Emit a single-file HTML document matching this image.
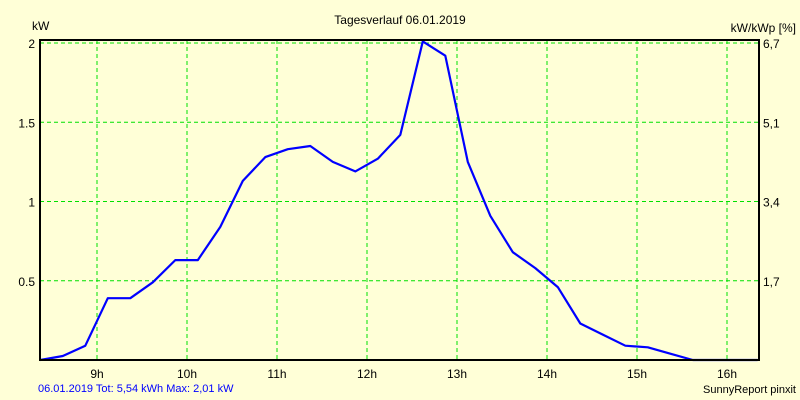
<!DOCTYPE html>
<html><head><meta charset="utf-8"><style>
body{margin:0;background:#ffffd7;}
svg{display:block;font-family:"Liberation Sans",sans-serif;font-size:12px;}
</style></head><body>
<svg width="800" height="400">
<rect x="0" y="0" width="800" height="400" fill="#ffffd7"/>
<g id="grid"></g>
<g id="labels"></g>
<path id="line" fill="none" stroke="#0000ff" stroke-width="2.2" stroke-linejoin="round"/>
<rect x="40" y="40" width="719" height="320" fill="none" stroke="#000" stroke-width="2"/>
<text x="400" y="24" text-anchor="middle">Tagesverlauf 06.01.2019</text>
<text x="32" y="30">kW</text>
<text x="796" y="32" text-anchor="end">kW/kWp [%]</text>
<text x="38" y="392" fill="#0000ff" font-size="11">06.01.2019 Tot: 5,54 kWh Max: 2,01 kW</text>
<text x="796" y="393" text-anchor="end" font-size="11">SunnyReport pinxit</text>
</svg>
<script>
const times=[8.37,8.62,8.87,9.12,9.37,9.62,9.87,10.12,10.37,10.62,10.87,11.12,11.37,11.62,11.87,12.12,12.37,12.62,12.87,13.12,13.37,13.62,13.87,14.12,14.37,14.62,14.87,15.12,15.37,15.62,16.34];
const power=[0,0.025,0.09,0.39,0.39,0.49,0.63,0.63,0.84,1.13,1.28,1.33,1.35,1.25,1.19,1.27,1.42,2.01,1.92,1.25,0.91,0.68,0.58,0.46,0.23,0.16,0.09,0.08,0.04,0,0];
const hourTicks=[9,10,11,12,13,14,15,16];
const yTicks=[0.5,1,1.5,2];
const yTickLabels=["0.5","1","1.5","2"];
const y2TickLabels=["1,7","3,4","5,1","6,7"];
const NS="http://www.w3.org/2000/svg";
function xs(t){return 97+(t-9)*90;}
function ys(v){return 360-v*158.5;}
const grid=document.getElementById('grid'),labels=document.getElementById('labels');
function mk(tag,attrs,parent){const e=document.createElementNS(NS,tag);for(const k in attrs)e.setAttribute(k,attrs[k]);parent.appendChild(e);return e;}
hourTicks.forEach(h=>{
 const l=mk('line',{x1:xs(h),x2:xs(h),y1:40,y2:360,stroke:'#00e000','stroke-dasharray':'4,3'},grid);
 
 
 const t=mk('text',{x:xs(h),y:378,'text-anchor':'middle'},labels);t.textContent=h+'h';
 
 
});
yTicks.forEach((v,i)=>{
 const l=mk('line',{x1:40,x2:759,y1:ys(v),y2:ys(v),stroke:'#00e000','stroke-dasharray':'4,3'},grid);
 
 
 const t=mk('text',{x:35,y:ys(v)+5,'text-anchor':'end'},labels);t.textContent=yTickLabels[i];
 
 
 const t2=mk('text',{x:763,y:ys(v)+5},labels);t2.textContent=y2TickLabels[i];
 
 
});
document.getElementById('line').setAttribute('d',times.map((t,i)=>(i?'L':'M')+xs(t).toFixed(1)+','+ys(power[i]).toFixed(1)).join(''));
</script>
</body></html>
